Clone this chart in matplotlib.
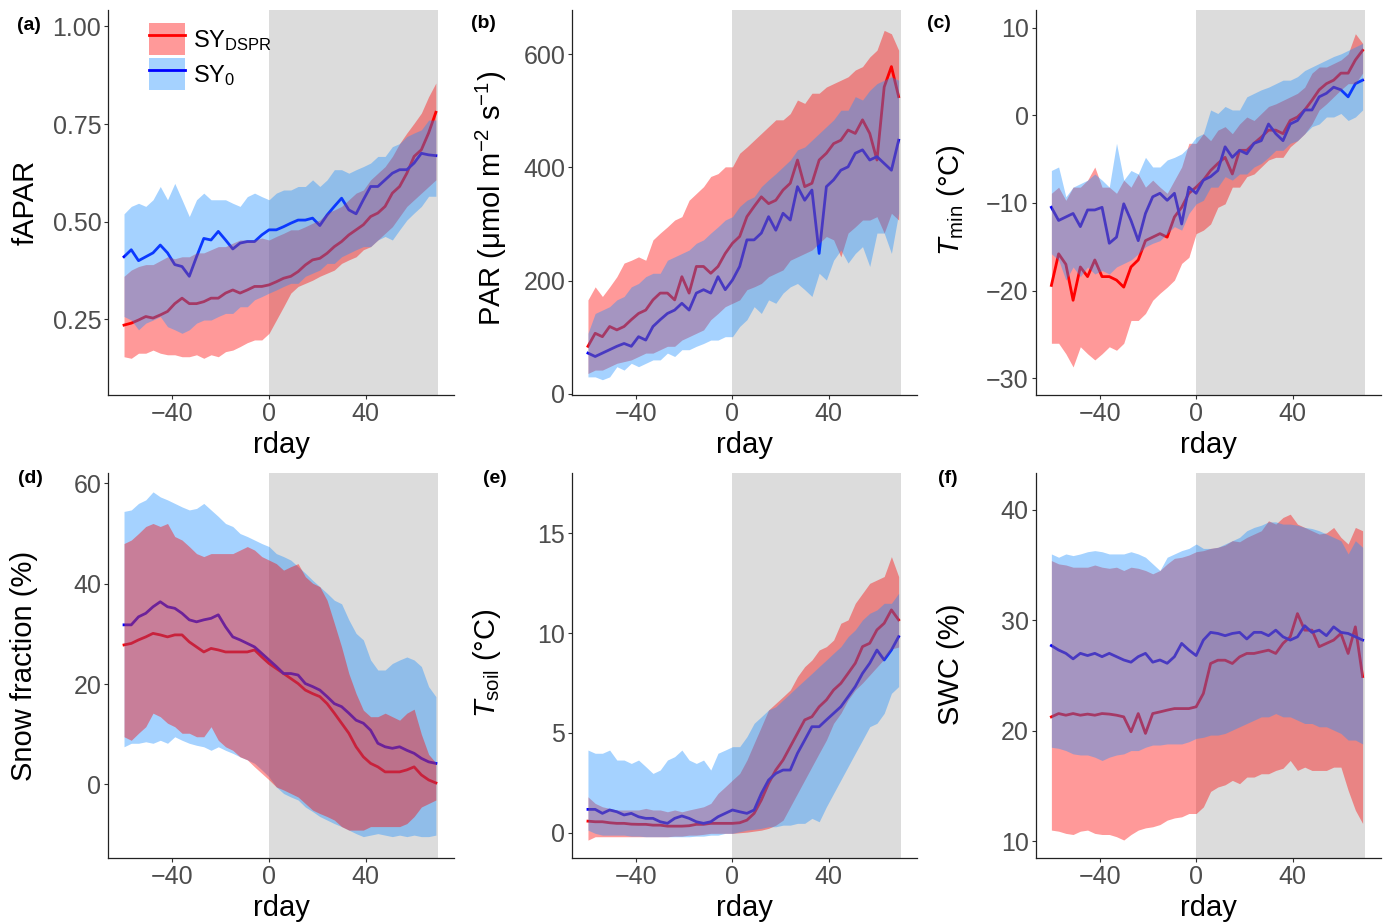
import matplotlib
matplotlib.use("Agg")
import matplotlib.pyplot as plt
from matplotlib.patches import Patch
from matplotlib.lines import Line2D
from matplotlib.legend_handler import HandlerTuple

plt.rcParams['font.family'] = ['Liberation Sans', 'DejaVu Sans']
plt.rcParams['mathtext.fontset'] = 'custom'
plt.rcParams['mathtext.rm'] = 'Liberation Sans'
plt.rcParams['mathtext.it'] = 'Liberation Sans:italic'
plt.rcParams['mathtext.bf'] = 'Liberation Sans:bold'

# days relative to the event, every 3rd day
rday = list(range(-60, 70, 3))
window = (0, 70)  # grey period

# (a) fAPAR
a_red_mean = [0.235,0.24,0.248,0.257,0.253,0.261,0.27,0.29,0.304,0.29,0.29,0.295,0.304,0.304,0.317,0.325,0.317,0.325,0.334,0.334,0.338,0.346,0.355,0.36,0.372,0.389,0.402,0.406,0.419,0.436,0.449,0.466,0.479,0.492,0.513,0.522,0.539,0.573,0.59,0.624,0.667,0.684,0.727,0.78]
a_red_hi = [0.36,0.376,0.385,0.39,0.39,0.40,0.41,0.405,0.41,0.41,0.42,0.42,0.428,0.436,0.436,0.445,0.453,0.453,0.453,0.458,0.453,0.462,0.47,0.479,0.479,0.487,0.496,0.504,0.522,0.53,0.539,0.556,0.573,0.581,0.607,0.624,0.641,0.667,0.70,0.727,0.752,0.778,0.82,0.855]
a_red_lo = [0.154,0.15,0.163,0.163,0.171,0.163,0.159,0.159,0.154,0.154,0.159,0.15,0.159,0.154,0.167,0.171,0.18,0.19,0.197,0.197,0.214,0.248,0.282,0.317,0.334,0.342,0.35,0.36,0.368,0.376,0.393,0.402,0.41,0.428,0.436,0.453,0.47,0.487,0.513,0.539,0.556,0.573,0.59,0.607]
a_blue_mean = [0.41,0.428,0.40,0.41,0.42,0.44,0.42,0.39,0.385,0.36,0.41,0.457,0.453,0.475,0.453,0.43,0.445,0.449,0.449,0.466,0.479,0.479,0.487,0.496,0.504,0.504,0.509,0.49,0.517,0.539,0.56,0.53,0.52,0.556,0.59,0.59,0.607,0.624,0.633,0.633,0.65,0.675,0.671,0.669]
a_blue_hi = [0.52,0.539,0.547,0.539,0.556,0.59,0.556,0.598,0.556,0.513,0.556,0.573,0.556,0.556,0.556,0.547,0.539,0.564,0.573,0.564,0.556,0.573,0.581,0.581,0.59,0.59,0.607,0.59,0.607,0.633,0.633,0.624,0.633,0.641,0.65,0.667,0.667,0.692,0.70,0.718,0.727,0.735,0.76,0.76]
a_blue_lo = [0.257,0.248,0.223,0.24,0.248,0.257,0.231,0.223,0.214,0.223,0.24,0.248,0.248,0.257,0.265,0.265,0.282,0.282,0.30,0.308,0.317,0.325,0.334,0.342,0.342,0.36,0.368,0.376,0.393,0.393,0.41,0.419,0.428,0.436,0.436,0.453,0.462,0.453,0.479,0.504,0.522,0.539,0.565,0.565]

# (b) PAR
b_red_mean = [84,107,101,119,113,119,131,142,148,166,178,178,166,207,178,225,225,213,225,248,266,278,313,331,348,336,342,360,372,413,366,372,413,425,442,448,466,460,484,460,413,542,578,525]
b_red_hi = [166,189,172,189,207,231,236,242,236,272,284,295,307,313,342,354,366,384,389,401,401,425,436,448,460,472,484,484,495,519,513,531,531,542,548,554,560,572,578,595,607,642,636,607]
b_red_lo = [36,42,42,48,54,57,60,66,72,72,78,84,84,95,101,107,113,131,142,154,160,166,184,189,195,207,213,219,236,242,248,254,266,278,272,242,284,295,307,307,313,284,319,307]
b_blue_mean = [72,66,72,78,84,89,84,101,95,119,131,142,148,160,148,178,184,178,207,184,201,225,272,272,284,313,289,319,307,366,342,360,248,366,378,395,401,425,431,413,419,407,395,448]
b_blue_hi = [107,142,148,154,166,172,189,195,207,213,213,236,242,248,254,266,272,284,295,307,313,331,342,348,366,378,389,401,413,431,436,448,460,472,484,501,501,525,519,536,548,554,560,554]
b_blue_lo = [30,30,25,30,48,42,54,48,54,60,60,72,66,78,78,84,89,95,95,101,101,119,131,154,142,166,160,178,189,195,184,172,213,201,236,254,231,248,260,225,284,284,248,319]

# (c) Tmin
c_red_mean = [-19.4,-15.8,-17.0,-21.1,-17.3,-18.4,-16.5,-18.4,-18.4,-18.8,-19.6,-17.3,-16.5,-14.3,-13.9,-13.5,-13.9,-11.6,-10.5,-8.9,-8.2,-7.4,-6.3,-5.5,-4.8,-6.7,-4.0,-4.0,-3.2,-2.5,-1.7,-1.7,-2.1,-0.6,-0.2,0.6,1.7,2.9,3.6,4.0,4.8,4.8,6.3,7.4]
c_red_hi = [-8.9,-8.2,-9.7,-8.2,-8.2,-7.4,-5.9,-8.2,-8.2,-8.9,-7.4,-8.2,-6.7,-8.2,-7.4,-8.2,-8.9,-7.4,-5.9,-3.2,-3.2,-2.1,-2.9,-1.7,-1.3,-2.1,-1.0,-0.2,-0.6,0.2,1.0,1.3,1.7,2.1,2.5,3.2,4.8,5.5,5.5,5.9,6.3,7.0,9.3,8.2]
c_red_lo = [-26.0,-26.0,-27.2,-28.7,-26.4,-27.2,-27.9,-27.2,-26.4,-26.8,-26.0,-23.4,-23.4,-22.6,-21.1,-20.3,-19.6,-18.8,-16.9,-16.2,-13.5,-13.1,-12.4,-10.5,-10.1,-8.2,-8.2,-7.0,-6.7,-5.9,-5.1,-4.8,-4.8,-3.6,-2.9,-2.1,-1.0,0.6,1.3,2.1,2.9,3.6,3.6,4.8]
c_blue_mean = [-10.5,-12.0,-11.6,-11.2,-12.7,-10.8,-10.8,-10.5,-14.6,-13.9,-10.1,-12.0,-14.3,-11.2,-9.3,-8.9,-9.7,-8.9,-12.4,-8.2,-8.9,-7.4,-7.0,-6.3,-3.6,-4.8,-4.0,-4.4,-3.2,-2.9,-1.0,-2.1,-2.9,-1.0,-0.6,0.6,0.6,2.1,2.5,3.2,2.9,2.1,3.6,4.0]
c_blue_hi = [-6.3,-5.9,-9.3,-8.2,-7.8,-7.4,-6.7,-7.4,-8.2,-3.2,-7.4,-6.3,-6.7,-4.8,-5.9,-5.9,-5.1,-4.8,-4.4,-3.6,-2.5,-2.1,0.6,0.2,1.0,0.6,0.6,2.1,2.5,2.9,3.2,3.6,4.0,4.0,4.4,5.1,5.5,5.9,6.3,6.7,7.0,7.4,7.8,8.2]
c_blue_lo = [-15.8,-16.5,-18.8,-17.3,-18.4,-17.3,-18.1,-17.7,-18.1,-17.3,-16.9,-16.5,-15.8,-15.0,-14.6,-14.3,-13.5,-12.7,-13.1,-11.2,-10.1,-9.7,-8.2,-8.2,-7.0,-7.4,-6.7,-6.7,-5.9,-5.5,-4.8,-4.0,-4.0,-3.2,-2.9,-2.1,-1.3,-1.0,-0.2,-0.2,0.2,-0.6,-0.2,0.6]

# (d) snow fraction
d_red_mean = [27.8,28.1,28.8,29.4,30.1,29.8,29.4,29.8,29.8,28.4,27.4,26.4,27.1,26.8,26.4,26.4,26.4,26.4,26.8,25.4,24.1,23.1,22.1,21.1,20.1,18.8,18.1,17.5,16.1,14.2,12.2,10.2,7.5,5.5,4.2,3.5,2.5,2.5,2.5,2.9,3.5,1.9,0.9,0.3]
d_red_hi = [48.0,48.7,50.0,51.4,52.0,51.4,52.0,49.4,48.7,47.4,46.0,45.4,46.0,46.0,46.0,46.0,46.7,47.4,46.7,45.4,44.7,44.0,42.7,43.4,44.0,41.4,40.1,39.4,36.7,32.1,27.4,22.1,18.1,14.8,13.5,13.5,14.2,13.5,12.8,14.2,15.0,10.0,6.0,4.3]
d_red_lo = [9.5,8.8,10.2,11.5,14.2,13.5,12.2,11.5,10.2,10.2,9.5,9.5,11.5,8.8,7.5,6.8,5.5,4.9,3.5,2.2,0.9,-0.5,-1.1,-1.8,-2.5,-3.8,-5.1,-5.8,-6.4,-7.1,-8.4,-9.1,-9.1,-9.1,-8.4,-8.4,-8.4,-8.4,-8.4,-7.8,-6.4,-4.5,-3.8,-3.1]
d_blue_mean = [31.8,31.8,33.4,34.1,35.4,36.4,35.4,35.1,34.1,32.8,32.4,32.8,33.1,33.8,31.4,29.4,28.8,28.1,27.4,26.1,24.8,23.5,22.1,22.1,21.8,20.1,19.5,18.8,17.5,16.1,15.5,14.2,12.8,12.2,10.8,8.2,7.5,7.2,7.5,6.8,6.2,5.2,4.5,4.2]
d_blue_hi = [54.4,54.7,56.0,56.7,58.3,57.3,56.7,56.0,55.3,54.7,55.0,56.0,54.7,53.4,52.0,51.4,50.0,49.4,48.7,48.0,47.4,46.0,45.4,44.7,43.4,42.1,40.7,39.4,38.1,36.7,36.0,32.8,30.1,28.8,24.8,22.8,22.8,24.1,24.8,25.4,24.8,23.5,19.5,17.5]
d_blue_lo = [7.5,8.2,8.2,8.5,8.2,8.8,8.2,9.5,8.8,8.2,7.8,7.5,6.8,7.5,6.8,6.2,5.5,4.9,4.2,2.9,1.5,-0.5,-1.8,-2.5,-3.1,-4.5,-5.4,-6.4,-7.1,-7.8,-8.4,-9.1,-9.8,-10.4,-10.1,-9.8,-10.1,-10.4,-10.1,-10.4,-10.1,-10.4,-10.4,-10.1]

# (e) Tsoil
e_red_mean = [0.58,0.55,0.55,0.50,0.47,0.47,0.43,0.42,0.42,0.38,0.38,0.33,0.33,0.33,0.35,0.42,0.42,0.47,0.47,0.47,0.47,0.50,0.63,0.97,1.64,2.47,3.14,3.64,4.31,4.98,5.65,5.81,6.31,6.65,7.15,7.48,7.98,8.49,9.32,9.49,10.16,10.49,11.16,10.66]
e_red_hi = [1.80,1.47,1.30,1.22,1.14,1.14,1.14,1.14,1.22,1.14,1.14,1.05,1.14,1.05,1.14,1.22,1.30,1.47,1.97,2.30,2.64,2.97,3.64,4.48,5.31,6.15,6.48,6.81,7.15,7.82,8.32,8.65,9.15,9.32,9.65,10.49,10.66,11.49,11.99,12.49,12.66,12.83,13.83,12.83]
e_red_lo = [-0.37,-0.2,-0.2,-0.2,-0.2,-0.2,-0.2,-0.2,-0.2,-0.2,-0.2,-0.2,-0.17,-0.17,-0.12,-0.12,-0.08,-0.03,-0.03,-0.03,-0.03,0.0,0.03,0.08,0.13,0.22,0.38,0.63,1.3,1.97,2.64,3.31,3.98,4.64,5.48,5.98,6.65,7.15,7.5,7.9,8.3,8.7,9.2,9.3]
e_blue_mean = [1.17,1.17,0.97,1.14,1.05,0.89,0.97,0.80,0.72,0.72,0.55,0.47,0.72,0.84,0.72,0.55,0.47,0.55,0.80,0.97,1.14,1.05,0.97,1.14,1.97,2.64,2.97,3.14,3.14,3.98,4.64,5.31,5.31,5.65,5.98,6.31,6.81,7.32,7.98,8.49,9.15,8.65,9.15,9.82]
e_blue_hi = [4.14,3.98,3.98,4.14,3.64,3.64,3.47,3.64,3.31,2.97,3.14,3.64,3.81,4.14,3.64,3.47,3.64,3.14,3.98,4.14,4.31,4.31,4.81,5.48,5.81,6.15,6.31,6.65,6.98,7.32,7.65,7.98,8.32,8.65,8.99,9.32,9.82,10.16,10.66,10.99,11.16,11.49,11.49,11.99]
e_blue_lo = [0.13,-0.03,-0.12,-0.12,-0.12,-0.12,-0.17,-0.17,-0.2,-0.2,-0.2,-0.2,-0.2,-0.2,-0.2,-0.17,-0.17,-0.12,-0.12,-0.03,-0.03,0.05,0.13,0.17,0.22,0.3,0.3,0.38,0.38,0.47,0.47,0.72,0.55,1.3,1.97,2.64,3.31,3.98,4.64,5.31,5.48,5.98,6.98,7.32]

# (f) SWC
f_red_mean = [21.25,21.55,21.4,21.55,21.4,21.5,21.4,21.55,21.5,21.4,21.25,19.9,21.55,19.75,21.55,21.7,21.86,22.0,22.0,22.0,22.16,23.37,26.08,26.38,26.38,26.08,26.68,26.99,26.99,27.14,27.29,26.99,27.9,28.5,30.6,29.1,29.1,27.6,27.9,28.2,28.8,26.99,29.4,24.9]
f_red_hi = [35.4,35.1,35.0,34.8,34.8,34.8,35.0,34.8,34.7,34.8,34.5,34.8,34.7,34.5,34.2,34.5,35.1,35.6,35.7,35.9,36.2,36.3,36.5,36.6,36.8,37.2,37.1,37.5,37.8,38.1,39.0,38.7,39.3,39.6,38.7,38.4,38.1,37.8,37.9,38.4,37.5,36.9,38.4,38.1]
f_red_lo = [11.0,10.9,10.7,10.6,10.9,11.0,10.7,10.6,10.6,10.4,10.1,10.6,11.0,11.2,11.3,11.5,11.9,12.1,12.2,12.5,12.5,13.1,14.5,14.9,15.1,15.5,15.2,15.8,15.8,16.1,16.1,16.4,16.6,17.3,16.4,16.7,16.4,16.4,16.4,16.7,16.7,14.6,12.8,11.6]
f_blue_mean = [27.7,27.3,27.0,26.5,27.0,26.8,27.0,26.7,27.0,26.7,26.4,26.2,26.7,27.0,26.2,26.4,26.1,26.7,27.9,27.3,26.8,28.2,28.9,28.8,28.6,28.8,28.9,28.3,28.9,28.9,28.6,29.1,28.5,28.2,28.5,29.5,28.9,29.1,28.6,29.4,28.9,28.8,28.5,28.2]
f_blue_hi = [36.0,35.7,36.0,35.85,36.0,36.2,36.3,36.2,36.0,36.0,36.0,36.2,36.0,35.7,35.1,34.5,35.7,36.0,36.3,36.5,36.9,36.5,36.5,36.6,36.9,37.2,37.5,38.1,38.4,38.6,38.9,38.9,38.7,38.7,38.6,38.4,38.3,38.1,37.8,37.5,37.2,36.0,37.2,36.6]
f_blue_lo = [18.5,18.4,18.2,17.9,17.8,17.8,17.6,17.3,17.6,17.8,17.9,18.2,18.2,18.5,18.7,18.7,18.8,18.8,18.8,19.0,19.3,19.4,19.6,19.6,19.75,20.05,20.35,20.65,20.95,21.25,21.25,21.55,21.25,21.25,20.95,20.65,20.65,20.35,20.35,20.05,19.75,19.15,19.15,18.8]

RED = "#FF0000"
BLUE_LINE = "#0000FF"
BLUE_FILL = "#1E90FF"
GREY = "#DCDCDC"

panels = [
    dict(tag="(a)", box=(108.3, 10, 454, 395), ylim=(0.056, 1.042), yticks=[0.25, 0.50, 0.75, 1.00],
         ylabel="fAPAR", ylab_xy=(26, 202), tag_xy=(29, 25),
         red=(a_red_mean, a_red_lo, a_red_hi), blue=(a_blue_mean, a_blue_lo, a_blue_hi), blue_first=False),
    dict(tag="(b)", box=(572.3, 10, 916.7, 395), ylim=(-2, 678), yticks=[0, 200, 400, 600],
         ylabel="PAR (\u03bcmol m$^{-2}$ s$^{-1}$)", ylab_xy=(491, 198), tag_xy=(483, 24),
         red=(b_red_mean, b_red_lo, b_red_hi), blue=(b_blue_mean, b_blue_lo, b_blue_hi), blue_first=False),
    dict(tag="(c)", box=(1035.7, 10, 1380.7, 395), ylim=(-31.9, 12.0), yticks=[-30, -20, -10, 0, 10],
         ylabel="$T_{\\mathrm{min}}$ (\u00b0C)", ylab_xy=(951, 200), tag_xy=(939, 24),
         red=(c_red_mean, c_red_lo, c_red_hi), blue=(c_blue_mean, c_blue_lo, c_blue_hi), blue_first=False),
    dict(tag="(d)", box=(108.3, 473.3, 454, 857.7), ylim=(-14.6, 62.0), yticks=[0, 20, 40, 60],
         ylabel="Snow fraction (%)", ylab_xy=(24, 666), tag_xy=(30, 478),
         red=(d_red_mean, d_red_lo, d_red_hi), blue=(d_blue_mean, d_blue_lo, d_blue_hi), blue_first=True),
    dict(tag="(e)", box=(572.3, 473.3, 916.7, 857.7), ylim=(-1.25, 18.0), yticks=[0, 5, 10, 15],
         ylabel="$T_{\\mathrm{soil}}$ (\u00b0C)", ylab_xy=(487, 663), tag_xy=(495, 478),
         red=(e_red_mean, e_red_lo, e_red_hi), blue=(e_blue_mean, e_blue_lo, e_blue_hi), blue_first=False),
    dict(tag="(f)", box=(1035.7, 473.3, 1380.7, 857.7), ylim=(8.5, 43.3), yticks=[10, 20, 30, 40],
         ylabel="SWC (%)", ylab_xy=(951, 664), tag_xy=(948, 478),
         red=(f_red_mean, f_red_lo, f_red_hi), blue=(f_blue_mean, f_blue_lo, f_blue_hi), blue_first=False),
]

W, H = 1386, 922
fig = plt.figure(figsize=(W / 100, H / 100), dpi=100)

for p in panels:
    l, t, r, b = p["box"]
    ax = fig.add_axes([l / W, 1 - b / H, (r - l) / W, (b - t) / H])
    ax.axvspan(window[0], window[1], color=GREY, lw=0, zorder=0)

    rm, rlo, rhi = p["red"]
    bm, blo, bhi = p["blue"]
    # lines sit under the ribbons, as in the original
    ax.plot(rday, rm, color=RED, lw=2.0, zorder=1)
    ax.plot(rday, bm, color=BLUE_LINE, lw=2.0, zorder=1)
    ribbons = [(rlo, rhi, RED), (blo, bhi, BLUE_FILL)]
    if p["blue_first"]:
        ribbons = ribbons[::-1]
    for lo, hi, c in ribbons:
        ax.fill_between(rday, lo, hi, color=c, alpha=0.4, lw=0, zorder=2)

    ax.set_xlim(-66.5, 76.5)
    ax.set_ylim(*p["ylim"])
    ax.set_xticks([-40, 0, 40])
    ax.set_yticks(p["yticks"])
    for s in ["top", "right"]:
        ax.spines[s].set_visible(False)
    for s in ["left", "bottom"]:
        ax.spines[s].set_color("#222222")
        ax.spines[s].set_linewidth(0.9)
    ax.tick_params(length=3, width=0.8, color="#333333", labelcolor="#4D4D4D",
                   labelsize=18, pad=2)

    fig.text(p["ylab_xy"][0] / W, 1 - p["ylab_xy"][1] / H, p["ylabel"], rotation=90,
             ha="center", va="center", fontsize=21)
    xc = (l + r) / 2
    fig.text(xc / W, 1 - (b + 50) / H, "rday", ha="center", va="center", fontsize=21)
    fig.text(p["tag_xy"][0] / W, 1 - p["tag_xy"][1] / H, p["tag"], ha="center", va="center",
             fontsize=14, fontweight="bold")

    if p["tag"] == "(a)":
        h_red = (Patch(facecolor=RED, alpha=0.4, lw=0), Line2D([], [], color=RED, lw=2.0))
        h_blue = (Patch(facecolor=BLUE_FILL, alpha=0.4, lw=0), Line2D([], [], color=BLUE_LINE, lw=2.0))
        ax.legend([h_red, h_blue], ["SY$_{\\mathrm{DSPR}}$", "SY$_0$"],
                  handler_map={tuple: HandlerTuple(ndivide=1)},
                  loc="upper left", bbox_to_anchor=(0.1186, 0.967), frameon=False,
                  fontsize=17, handlelength=1.5, handleheight=1.75, handletextpad=0.35,
                  labelspacing=0.1, borderpad=0, borderaxespad=0)

fig.savefig("out.png", dpi=100)
